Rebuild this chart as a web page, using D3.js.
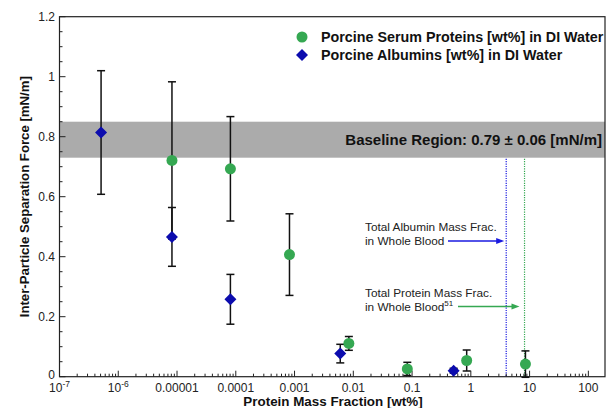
<!DOCTYPE html>
<html><head><meta charset="utf-8">
<script src="https://cdn.jsdelivr.net/npm/d3@7/dist/d3.min.js"></script>
<style>body{margin:0;background:#fff}svg{display:block;font-family:"Liberation Sans",Arial,Helvetica,sans-serif}</style>
</head><body><svg id="c" width="609" height="408"></svg>
<script>
// ---- data ----
const serumX   = [8.2e-6, 8.1e-5, 8.2e-4, 8.4e-3, 0.083, 0.85, 8.5];
const serumY   = [0.721, 0.693, 0.407, 0.111, 0.026, 0.054, 0.042];
const serumErr = [0.262, 0.174, 0.136, 0.023, 0.022, 0.035, 0.044];
const albX   = [5.1e-7, 8.2e-6, 8.1e-5, 6.0e-3, 0.51];
const albY   = [0.814, 0.466, 0.258, 0.077, 0.020];
const albErr = [0.206, 0.098, 0.083, 0.031, 0.008];
const baselineMean = 0.79, baselineSd = 0.06;
const albuminBloodFrac = 4.0, proteinBloodFrac = 8.2;
const xTickVals = [1e-7, 1e-6, 1e-5, 1e-4, 1e-3, 1e-2, 1e-1, 1, 10, 100];
const xTickLabels = ["10|-7", "10|-6", "0.00001", "0.0001", "0.001", "0.01", "0.1", "1", "10", "100"];
const yTickVals = [0, 0.2, 0.4, 0.6, 0.8, 1, 1.2];
const yTickLabels = ["0", "0.2", "0.4", "0.6", "0.8", "1", "1.2"];
const xDomain = [1e-7, 192];
const yDomain = [0, 1.2];

const green = "#35a852", blue = "#0c0cae";
const svg = d3.select("#c");
const L = 59.5, R = 605, T = 16.7, B = 376.7;
const x = d3.scaleLog().domain(xDomain).range([L, R]);
const y = d3.scaleLinear().domain(yDomain).range([B, T]);

// baseline band
svg.append("rect").attr("x", L).attr("width", R - L)
  .attr("y", y(baselineMean + baselineSd)).attr("height", y(baselineMean - baselineSd) - y(baselineMean + baselineSd))
  .attr("fill", "#ababab");
svg.append("text").attr("x", 602).attr("y", y(baselineMean) + 5.5).attr("text-anchor", "end")
  .attr("font-weight", "bold").attr("font-size", 15).attr("fill", "#111")
  .text("Baseline Region: 0.79 \u00b1 0.06 [mN/m]");

// vertical dotted lines
[[albuminBloodFrac, "#1a1ae0"], [proteinBloodFrac, green]].forEach(([v, c]) => {
  svg.append("line").attr("x1", x(v)).attr("x2", x(v)).attr("y1", y(baselineMean - baselineSd) + 1).attr("y2", B)
    .attr("stroke", c).attr("stroke-width", 1.2).attr("stroke-dasharray", "1.2,1.2");
});

// annotations
function annot(lines, ty, arrowFrom, arrowTo, color, sup) {
  const t = svg.append("text").attr("font-size", 11.8).attr("fill", "#222");
  t.append("tspan").attr("x", 365).attr("y", ty).text(lines[0]);
  t.append("tspan").attr("x", 365).attr("y", ty + 14).text(lines[1]);
  if (sup) t.append("tspan").attr("font-size", 8).attr("dy", -5).text(sup);
  const ay = ty + 10;
  svg.append("line").attr("x1", arrowFrom).attr("x2", arrowTo - 6).attr("y1", ay).attr("y2", ay)
    .attr("stroke", color).attr("stroke-width", 1.5);
  svg.append("path").attr("d", `M${arrowTo},${ay} L${arrowTo - 8},${ay - 3} L${arrowTo - 8},${ay + 3} Z`).attr("fill", color);
}
annot(["Total Albumin Mass Frac.", "in Whole Blood"], 231, 448, x(albuminBloodFrac) - 2, "#1a1ae0", null);
annot(["Total Protein Mass Frac.", "in Whole Blood"], 296.5, 458, x(proteinBloodFrac) - 5, green, "51");

// frame
svg.append("rect").attr("x", L).attr("y", T).attr("width", R - L).attr("height", B - T)
  .attr("fill", "none").attr("stroke", "#222").attr("stroke-width", 1.2);

// y ticks (inward)
const yMinor = d3.range(0, 1.2001, 0.05);
yMinor.forEach(v => {
  const major = Math.abs(v / 0.2 - Math.round(v / 0.2)) < 1e-6;
  svg.append("line").attr("x1", L).attr("x2", L + (major ? 6 : 3)).attr("y1", y(v)).attr("y2", y(v))
    .attr("stroke", "#222").attr("stroke-width", 1);
});
yTickVals.forEach((v, i) => {
  svg.append("text").attr("x", 55).attr("y", y(v) + (v === 0 ? 2.5 : 4.2)).attr("text-anchor", "end")
    .attr("font-size", 12).attr("fill", "#222").text(yTickLabels[i]);
});
// x ticks (inward)
const xMinor = [];
for (let e = -7; e <= 2; e++) for (let m = 1; m <= 9; m++) { const v = m * Math.pow(10, e); if (v <= xDomain[1]) xMinor.push([v, m === 1]); }
xMinor.forEach(([v, major]) => {
  svg.append("line").attr("x1", x(v)).attr("x2", x(v)).attr("y1", B).attr("y2", B - (major ? 6 : 3))
    .attr("stroke", "#222").attr("stroke-width", 1);
});
xTickVals.forEach((v, i) => {
  const lab = xTickLabels[i];
  const t = svg.append("text").attr("x", x(v)).attr("y", 392).attr("text-anchor", "middle")
    .attr("font-size", 12).attr("fill", "#222");
  if (lab.includes("|")) {
    const [b, e] = lab.split("|");
    t.append("tspan").text(b);
    t.append("tspan").attr("font-size", 8.5).attr("dy", -5).text(e);
  } else t.text(lab);
});

// axis titles
svg.append("text").attr("x", 333).attr("y", 405.5).attr("text-anchor", "middle").attr("font-weight", "bold")
  .attr("font-size", 13.4).attr("fill", "#111").text("Protein Mass Fraction [wt%]");
svg.append("text").attr("transform", `translate(29,${(T + B) / 2}) rotate(-90)`).attr("text-anchor", "middle")
  .attr("font-weight", "bold").attr("font-size", 13.2).attr("fill", "#111").text("Inter-Particle Separation Force [mN/m]");

// error bars
function errBars(xs, ys, es) {
  xs.forEach((xv, i) => {
    const cx = x(xv), y1 = y(ys[i] + es[i]), y2 = Math.min(y(ys[i] - es[i]), B + 1);
    const g = svg.append("g").attr("stroke", "#111").attr("stroke-width", 1.5);
    g.append("line").attr("x1", cx).attr("x2", cx).attr("y1", y1).attr("y2", y2);
    g.append("line").attr("x1", cx - 4).attr("x2", cx + 4).attr("y1", y1).attr("y2", y1);
    g.append("line").attr("x1", cx - 4).attr("x2", cx + 4).attr("y1", y2).attr("y2", y2);
  });
}
errBars(serumX, serumY, serumErr);
errBars(albX, albY, albErr);

const diamond = (cx, cy, r) => `M${cx},${cy - r} L${cx + r},${cy} L${cx},${cy + r} L${cx - r},${cy} Z`;
svg.selectAll(".alb").data(albX).enter().append("path")
  .attr("d", (d, i) => diamond(x(d), y(albY[i]), 6)).attr("fill", blue);
svg.selectAll(".ser").data(serumX).enter().append("circle")
  .attr("cx", d => x(d)).attr("cy", (d, i) => y(serumY[i])).attr("r", 5.5).attr("fill", green);

// legend
svg.append("circle").attr("cx", 302).attr("cy", 37).attr("r", 5.5).attr("fill", green);
svg.append("path").attr("d", diamond(302, 55, 6)).attr("fill", blue);
svg.append("text").attr("x", 321).attr("y", 42).attr("font-weight", "bold").attr("font-size", 14.3).attr("fill", "#111")
  .text("Porcine Serum Proteins [wt%] in DI Water");
svg.append("text").attr("x", 321).attr("y", 60).attr("font-weight", "bold").attr("font-size", 14.3).attr("fill", "#111")
  .text("Porcine Albumins [wt%] in DI Water");
</script></body></html>
